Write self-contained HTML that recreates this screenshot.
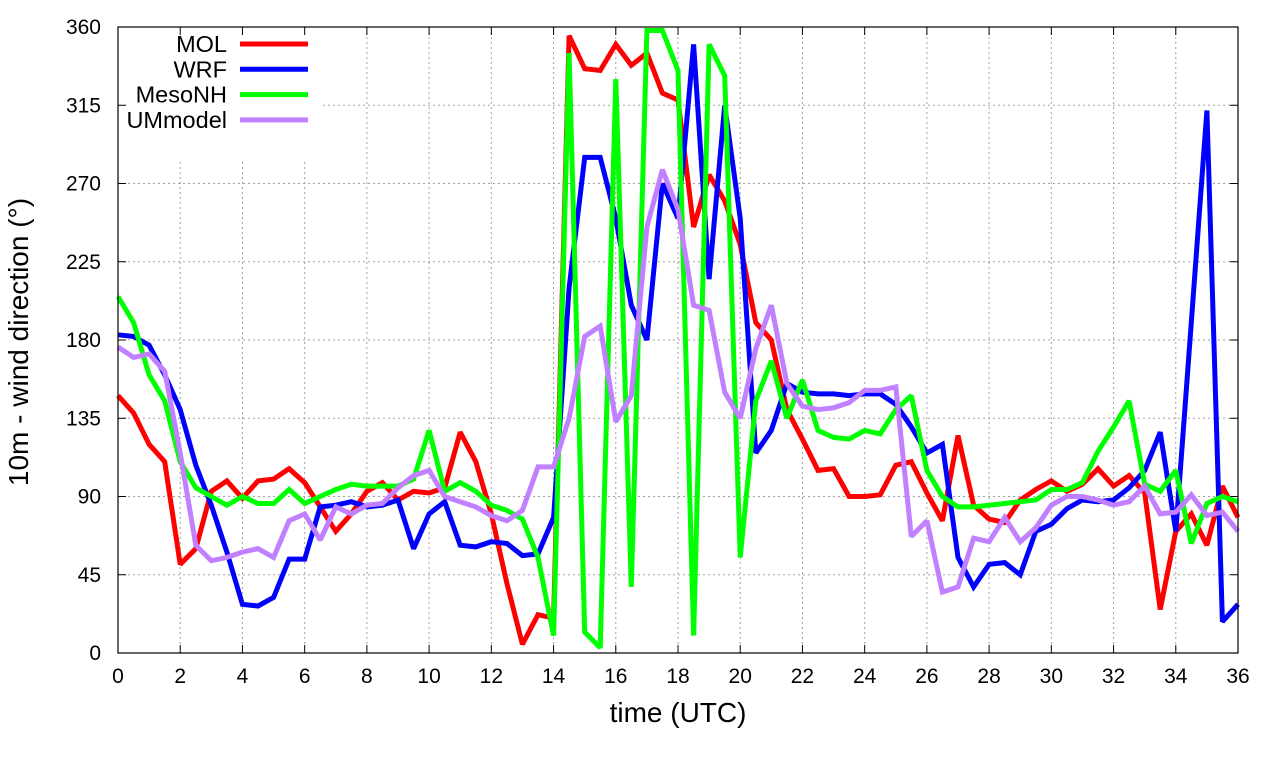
<!DOCTYPE html>
<html><head><meta charset="utf-8"><style>
body{margin:0;background:#fff;}
svg text{font-family:"Liberation Sans",sans-serif;fill:#000;}
</style></head><body>
<svg id="chart" width="1280" height="760" xmlns="http://www.w3.org/2000/svg"></svg>
<script>
const xTicks=[0,2,4,6,8,10,12,14,16,18,20,22,24,26,28,30,32,34,36];
const yTicks=[0,45,90,135,180,225,270,315,360];
const seriesNames=["MOL","WRF","MesoNH","UMmodel"];
const seriesColors=["#ff0000","#0000ff","#00ff00","#c080ff"];
const mol=[148,138,120,110,51,60,93,99,89,99,100,106,98,84,70,80,93,98,88,93,92,95,127,110,80,40,5,22,20,355,336,335,350,338,345,322,318,245,275,260,235,190,180,140,123,105,106,90,90,91,108,110,92,76,125,85,77,75,88,94,99,93,97,106,96,102,92,25,70,80,62,96,78];
const wrf=[183,182,177,160,140,108,85,58,28,27,32,54,54,84,85,87,84,85,88,60,80,87,62,61,64,63,56,57,78,210,285,285,250,200,180,270,250,350,215,315,250,115,128,155,150,149,149,148,149,149,143,130,115,120,55,38,51,52,45,70,74,83,88,87,88,95,105,127,70,190,312,18,28];
const mesonh=[205,190,160,145,110,95,90,85,90,86,86,94,86,90,94,97,96,96,96,100,128,93,98,93,85,82,77,55,10,345,12,3,330,38,358,358,335,10,350,332,55,145,168,135,157,128,124,123,128,126,140,148,105,90,84,84,85,86,87,88,94,94,98,116,130,145,97,93,105,63,86,90,87];
const um=[176,170,172,162,115,62,53,55,58,60,55,76,80,65,84,80,85,86,95,102,105,90,87,84,79,76,82,107,107,135,182,188,133,148,245,278,255,200,197,150,135,175,200,155,142,140,141,144,151,151,153,67,76,35,38,66,64,78,64,72,85,90,90,88,85,87,96,80,81,91,79,81,70];
const allSeries=[mol,wrf,mesonh,um];
const L=118,R=1238,T=27,B=653;
const xs=t=>L+(t/36)*(R-L);
const ys=v=>B-(v/360)*(B-T);
const NS="http://www.w3.org/2000/svg";
const svg=document.getElementById('chart');
function mk(tag,attrs,parent){const e=document.createElementNS(NS,tag);for(const k in attrs)e.setAttribute(k,attrs[k]);(parent||svg).appendChild(e);return e;}
for(const t of xTicks){
  const g=mk('line',{x1:xs(t),x2:xs(t),y1:T,y2:B,stroke:'#a0a0a0','stroke-width':1,'stroke-dasharray':'2,3'});
  
  
}
for(const v of yTicks){
  const g=mk('line',{x1:L,x2:R,y1:ys(v),y2:ys(v),stroke:'#a0a0a0','stroke-width':1,'stroke-dasharray':'2,3'});
  
  
}
const bg=mk('rect',{x:L+1,y:T+1,width:202,height:134,fill:'#fff'});


for(const t of xTicks){
  mk('line',{x1:xs(t),x2:xs(t),y1:B,y2:B-8,stroke:'#000'});
  mk('line',{x1:xs(t),x2:xs(t),y1:T,y2:T+8,stroke:'#000'});
  const tx=mk('text',{x:xs(t),y:B+30,'text-anchor':'middle','font-size':21});
  tx.textContent=t;
  
  
}
for(const v of yTicks){
  mk('line',{x1:L,x2:L+8,y1:ys(v),y2:ys(v),stroke:'#000'});
  mk('line',{x1:R,x2:R-8,y1:ys(v),y2:ys(v),stroke:'#000'});
  const tx=mk('text',{x:101,y:ys(v)+7,'text-anchor':'end','font-size':21});
  tx.textContent=v;
  
  
}
allSeries.forEach((s,i)=>{
  const pts=s.map((v,j)=>xs(j*0.5).toFixed(1)+','+ys(v).toFixed(1)).join(' ');
  const pl=mk('polyline',{points:pts,fill:'none',stroke:seriesColors[i],'stroke-width':5,'stroke-linejoin':'miter','stroke-miterlimit':2});
  
  
});
seriesNames.forEach((n,i)=>{
  const y=44+i*25.3;
  const tx=mk('text',{x:227,y:y+8,'text-anchor':'end','font-size':23.5});
  tx.textContent=n;
  
  
  const ln=mk('line',{x1:240,x2:308,y1:y,y2:y,stroke:seriesColors[i],'stroke-width':5});
  
  
});
const fr=mk('rect',{x:L,y:T,width:R-L,height:B-T,fill:'none',stroke:'#000','stroke-width':1.2});


const xt=mk('text',{x:(L+R)/2,y:722,'text-anchor':'middle','font-size':28});
xt.textContent='time (UTC)';


const yt=mk('text',{x:0,y:0,'text-anchor':'middle','font-size':28,transform:'translate(28,342) rotate(-90)'});
yt.textContent='10m - wind direction (°)';


</script>
</body></html>
